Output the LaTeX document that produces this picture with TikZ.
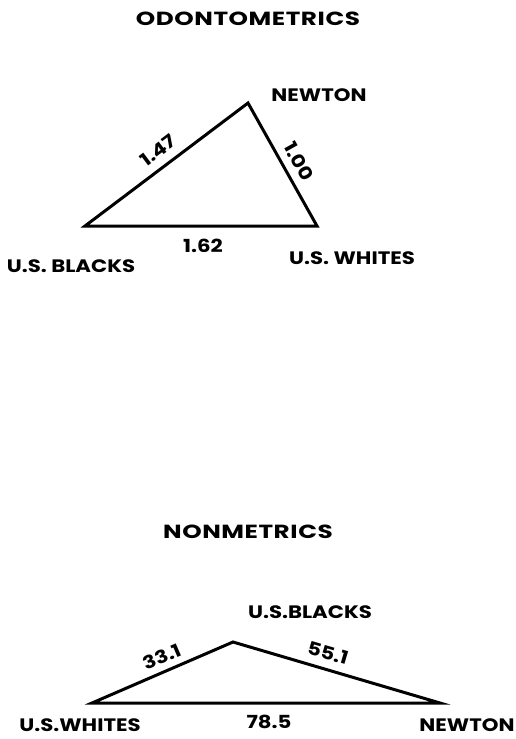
\documentclass[tikz,border=0pt]{standalone}
\usepackage{fontspec}
\setmainfont{Poppins}
\newfontfamily\lblfont{Poppins}[FakeStretch=1.18]
\newfontfamily\ttlfont{Poppins}[FakeStretch=1.3, LetterSpace=3]
\begin{document}
\begin{tikzpicture}[x=1pt,y=-1pt,
  lbl/.style={font=\lblfont\fontsize{18}{18}\selectfont\bfseries, inner sep=1pt},
  ttl/.style={font=\ttlfont\fontsize{19}{19}\selectfont\bfseries, inner sep=1pt},
  tri/.style={line width=3pt, line join=miter}]
\useasboundingbox (0,0) rectangle (516,739);
% top
\node[ttl] (t1) at (248,18.5) {ODONTOMETRICS};
\coordinate (an) at (248,103);
\coordinate (ab) at (85,226);
\coordinate (aw) at (317,226);
\draw[tri] (ab) -- (an) -- (aw) -- cycle;
\node[lbl, rotate=37] (e1) at (158,150.5) {1.47};
\node[lbl, rotate=-60.7] (e2) at (299,161) {1.00};
\node[lbl] (l1) at (203,246) {1.62};
\node[lbl] (n1) at (319,95) {NEWTON};
\node[lbl] (w1) at (352,258) {U.S. WHITES};
\node[lbl] (b1) at (71,266) {U.S. BLACKS};
% bottom
\node[ttl] (t2) at (248,532) {NONMETRICS};
\coordinate (bb) at (233,642);
\coordinate (bw) at (92,703);
\coordinate (bn) at (440,703);
\draw[tri] (bw) -- (bb) -- (bn) -- cycle;
\node[lbl, rotate=23.4] (e3) at (162,657) {33.1};
\node[lbl, rotate=-16.4] (e4) at (328,653) {55.1};
\node[lbl] (l2) at (269,722) {78.5};
\node[lbl] (bl2) at (310,612) {U.S.BLACKS};
\node[lbl] (w2) at (80,725) {U.S.WHITES};
\node[lbl] (n2) at (467,725) {NEWTON};
\end{tikzpicture}
\end{document}
